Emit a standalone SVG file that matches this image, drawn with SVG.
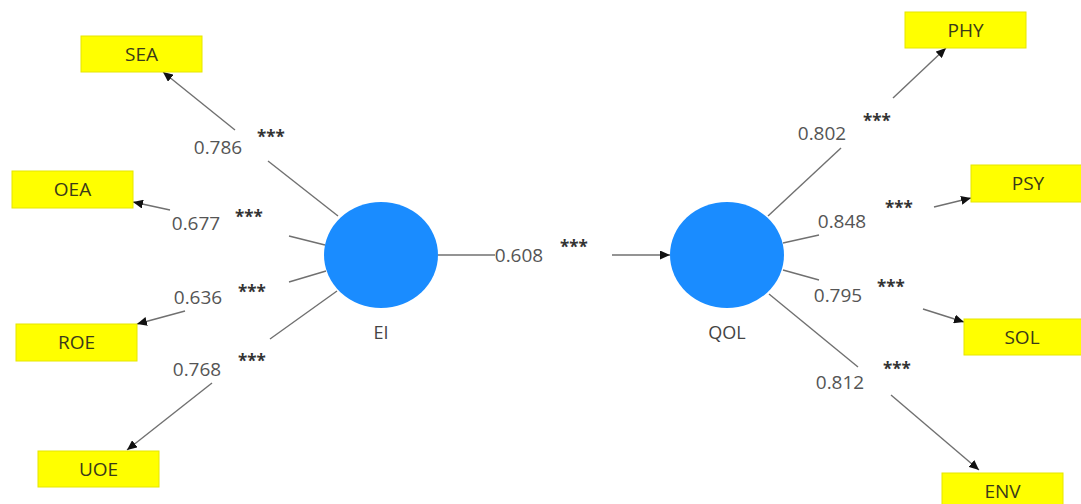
<svg xmlns="http://www.w3.org/2000/svg" width="1081" height="504" viewBox="0 0 1081 504">
<style>
.box{fill:#ffff00;stroke:#e6e600;stroke-width:1}
.bt{font-family:"Open Sans","Noto Sans",sans-serif;font-size:19px;fill:#3a3a1a;text-anchor:middle}
.lv{fill:#1a8cff}
.lt{font-family:"Open Sans","Noto Sans",sans-serif;font-size:18px;fill:#444;text-anchor:middle}
.num{font-family:"Open Sans","Noto Sans",sans-serif;font-size:19px;fill:#555;text-anchor:middle}
.st{font-family:"Open Sans","Noto Sans",sans-serif;font-size:17px;fill:#333;text-anchor:middle;font-weight:bold}
.ln{stroke:#707070;stroke-width:1.4;fill:none}
.ar{marker-end:url(#ah)}
</style>
<defs>
<marker id="ah" markerUnits="userSpaceOnUse" markerWidth="10" markerHeight="9" refX="10" refY="4.5" orient="auto">
<path d="M0,0 L10,4.5 L0,9 z" fill="#111"/>
</marker>
</defs>
<rect width="1081" height="504" fill="#fff"/>
<g id="connectors">
<line class="ln" x1="338" y1="216" x2="268" y2="161"/>
<line class="ln ar" x1="235" y1="130" x2="163" y2="72"/>
<line class="ln" x1="325" y1="245" x2="289" y2="236"/>
<line class="ln ar" x1="170" y1="210" x2="133" y2="202"/>
<line class="ln" x1="326" y1="271" x2="289" y2="282"/>
<line class="ln ar" x1="185" y1="311" x2="137" y2="324"/>
<line class="ln" x1="337" y1="291" x2="270" y2="339"/>
<line class="ln ar" x1="212" y1="383" x2="127" y2="450"/>
<line class="ln" x1="438" y1="255" x2="495" y2="255"/>
<line class="ln ar" x1="612" y1="255" x2="670" y2="255"/>
<line class="ln" x1="768" y1="216" x2="841" y2="148"/>
<line class="ln ar" x1="893" y1="98" x2="946" y2="48"/>
<line class="ln" x1="783" y1="243" x2="819" y2="235"/>
<line class="ln ar" x1="934" y1="207" x2="971" y2="198"/>
<line class="ln" x1="783" y1="270" x2="819" y2="280"/>
<line class="ln ar" x1="923" y1="309" x2="964" y2="322"/>
<line class="ln" x1="769" y1="294" x2="858" y2="367"/>
<line class="ln ar" x1="891" y1="395" x2="979" y2="470"/>
<text class="num" x="218" y="154">0.786</text>
<text class="st" x="271" y="143">***</text>
<text class="num" x="196" y="230">0.677</text>
<text class="st" x="249" y="223">***</text>
<text class="num" x="198" y="304">0.636</text>
<text class="st" x="252" y="298">***</text>
<text class="num" x="197" y="376">0.768</text>
<text class="st" x="252" y="367">***</text>
<text class="num" x="519" y="262">0.608</text>
<text class="st" x="574" y="253">***</text>
<text class="num" x="822" y="140">0.802</text>
<text class="st" x="877" y="127">***</text>
<text class="num" x="842" y="228">0.848</text>
<text class="st" x="899" y="214">***</text>
<text class="num" x="838" y="302">0.795</text>
<text class="st" x="891" y="293">***</text>
<text class="num" x="840" y="389">0.812</text>
<text class="st" x="897" y="375">***</text>
</g>
<g id="EI"><ellipse class="lv" cx="381" cy="255" rx="57" ry="53"/><text class="lt" x="381" y="339">EI</text></g>
<g id="QOL"><ellipse class="lv" cx="727" cy="255" rx="57" ry="53"/><text class="lt" x="727" y="339">QOL</text></g>
<g id="SEA"><rect class="box" x="81" y="36" width="121" height="36"/><text class="bt" x="141.5" y="61">SEA</text></g>
<g id="OEA"><rect class="box" x="12" y="171" width="121" height="37"/><text class="bt" x="72.5" y="196">OEA</text></g>
<g id="ROE"><rect class="box" x="16" y="324" width="121" height="37"/><text class="bt" x="76.5" y="349">ROE</text></g>
<g id="UOE"><rect class="box" x="38" y="451" width="121" height="36"/><text class="bt" x="98.5" y="476">UOE</text></g>
<g id="PHY"><rect class="box" x="905" y="12" width="121" height="36"/><text class="bt" x="965.5" y="37">PHY</text></g>
<g id="PSY"><rect class="box" x="971" y="165" width="121" height="37"/><text class="bt" x="1028" y="190">PSY</text></g>
<g id="SOL"><rect class="box" x="964" y="319" width="121" height="36"/><text class="bt" x="1022" y="344">SOL</text></g>
<g id="ENV"><rect class="box" x="942" y="473" width="121" height="36"/><text class="bt" x="1002.5" y="498">ENV</text></g>
</svg>
